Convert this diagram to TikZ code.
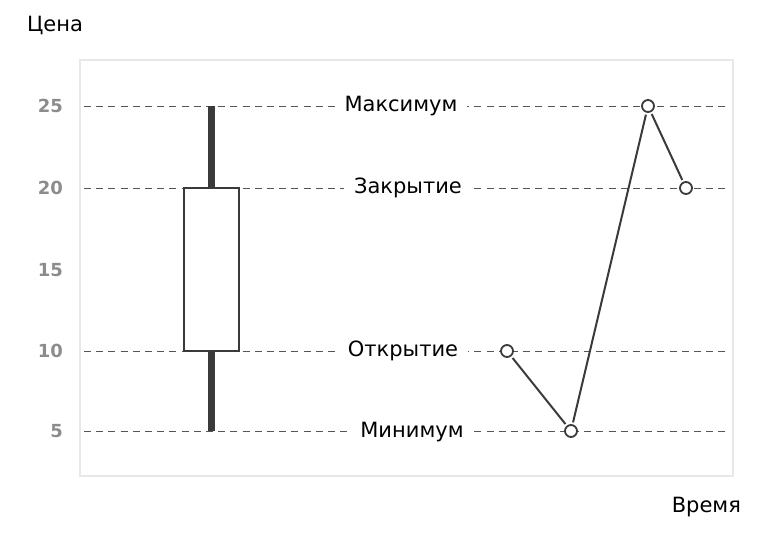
\documentclass[tikz,border=0pt]{standalone}
\usepackage{fontspec}
\setmainfont{DejaVu Sans}
\usepackage{xcolor}
\usetikzlibrary{positioning,calc}

\definecolor{ink}{HTML}{3A3A3A}
\definecolor{gridc}{HTML}{555555}
\definecolor{framec}{HTML}{E8E8E8}
\definecolor{tickc}{HTML}{8C8C8C}

\begin{document}
\begin{tikzpicture}[x=0.5pt, y=-0.5pt, font=\fontsize{10.5}{12}\selectfont,
    tick/.style={anchor=east, text=tickc, font=\fontsize{9}{10}\selectfont\bfseries},
    level/.style={fill=white, inner xsep=5pt, inner ysep=2pt, text=black},
    dot/.style={circle, draw=ink, fill=white, line width=0.9pt, minimum size=6pt, inner sep=0pt},
    gline/.style={draw=gridc, dash pattern=on 3.5pt off 2.6pt, line width=0.5pt}]

\useasboundingbox (0,0) rectangle (768,536);

% plot frame
\draw[framec, line width=0.6pt] (80,60) rectangle (733,476);

% axis titles
\node[anchor=west] (price) at (20,25) {Цена};
\node[anchor=east] (time) at (748,507) {Время};

% price ticks and dashed levels
\foreach \y/\val in {106/25, 188/20, 270/15, 351/10, 431/5} {
    \node[tick] (T\val) at (70,\y) {\val};
}
\foreach \y in {106, 188, 351, 431} {
    \draw[gline] (84,\y) -- (730,\y);
}

% level labels
\node[level] (max)   at (401,106) {Максимум};
\node[level] (close) at (408,188) {Закрытие};
\node[level] (open)  at (403,351) {Открытие};
\node[level] (min)   at (412,432) {Минимум};

% candle
\draw[ink, line width=3.5pt] (211,106) -- (211,188);
\draw[ink, line width=3.5pt] (211,351) -- (211,431);
\draw[ink, line width=1.1pt, fill=white] (184,188) rectangle (239,351);

% price path
\foreach \i/\x/\y in {1/507/351, 2/571/431, 3/648/106, 4/686/188} {
    \node[dot] (P\i) at (\x,\y) {};
}
\foreach \i in {1,2,3} {
    \pgfmathtruncatemacro{\j}{\i+1}
    \draw[ink, line width=1pt, shorten >=1pt, shorten <=1pt] (P\i) -- (P\j);
}
\end{tikzpicture}
\end{document}
